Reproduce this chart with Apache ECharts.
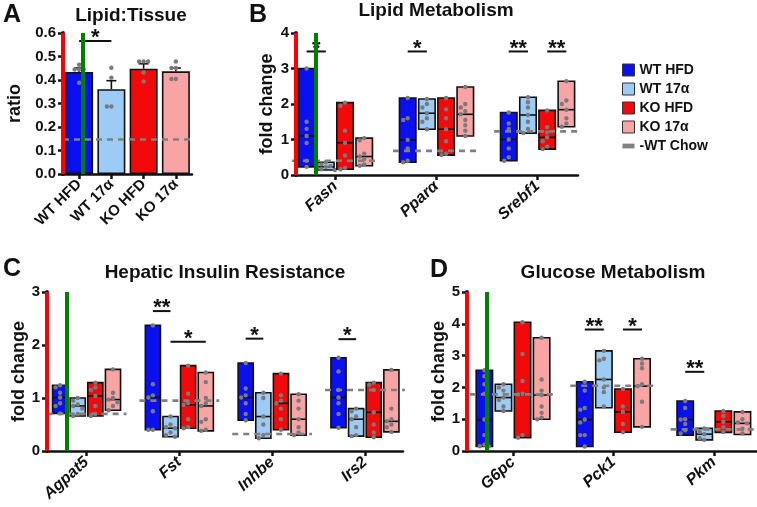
<!DOCTYPE html>
<html>
<head>
<meta charset="utf-8">
<script src="https://cdn.jsdelivr.net/npm/echarts@6/dist/echarts.min.js"></script>
<style>
  html, body { margin: 0; padding: 0; background: #fff; }
  #main { width: 757px; height: 507px; }
</style>
</head>
<body>
<div id="main"></div>
<script>
const GROUPS = ['WT HFD', 'WT 17α', 'KO HFD', 'KO 17α'];
const COLORS = ['#0a10ee', '#9ccbf6', '#f20a0a', '#f8a4a4'];

// A - Lipid:Tissue
const ratioMean = [0.434, 0.361, 0.448, 0.437];
const ratioSem = [0.017, 0.036, 0.021, 0.014];
const ratioDots = [
    [0.465, 0.445, 0.445, 0.445, 0.388],
    [0.452, 0.41, 0.287, 0.287],
    [0.479, 0.479, 0.479, 0.432, 0.394],
    [0.479, 0.451, 0.451, 0.404, 0.404]
];
const ratioChow = 0.15;
const ratioSig = [[0, 0, 1, 0.566, '*']];

// B - Lipid Metabolism  [gene][group]
const lipidGenes = ['Fasn', 'Pparα', 'Srebf1'];
const lipidMin = [[0.23, 0.14, 0.16, 0.26], [0.36, 1.29, 0.56, 1.1], [0.4, 1.18, 0.73, 1.36]];
const lipidMed = [[1.1, 0.23, 0.91, 0.52], [0.99, 1.74, 1.29, 1.71], [1.0, 1.69, 1.06, 1.84]];
const lipidMax = [[3.0, 0.36, 2.04, 1.04], [2.17, 2.14, 2.17, 2.48], [1.76, 2.19, 1.82, 2.64]];
const lipidChow = [0.4, 0.68, 1.23];
const lipidDots = [
    [[3.0, 1.5, 1.3, 1.1, 0.9, 0.4, 0.23], [0.36, 0.3, 0.25, 0.23, 0.2, 0.16, 0.14],
     [2.04, 1.95, 1.25, 0.91, 0.55, 0.2, 0.16], [1.04, 0.98, 0.6, 0.52, 0.45, 0.3, 0.26]],
    [[2.17, 1.6, 1.55, 0.99, 0.75, 0.4, 0.36], [2.14, 2.0, 1.9, 1.74, 1.6, 1.5, 1.29],
     [2.17, 1.85, 1.6, 1.29, 0.95, 0.6, 0.56], [2.48, 2.0, 1.9, 1.8, 1.71, 1.55, 1.4, 1.25, 1.1]],
    [[1.76, 1.45, 1.3, 1.0, 0.75, 0.5, 0.4], [2.19, 2.05, 1.9, 1.69, 1.5, 1.3, 1.18],
     [1.82, 1.35, 1.2, 1.06, 0.95, 0.8, 0.73], [2.64, 2.1, 2.0, 1.84, 1.6, 1.45, 1.36]]
];
const lipidSig = [[0, 0, 1, 3.48, '*'], [1, 0, 1, 3.48, '*'], [2, 0, 1, 3.48, '**'], [2, 2, 3, 3.48, '**']];

// C - Hepatic Insulin Resistance
const insulinGenes = ['Agpat5', 'Fst', 'Inhbe', 'Irs2'];
const insulinMin = [[0.71, 0.66, 0.66, 0.77], [0.4, 0.27, 0.43, 0.38], [0.58, 0.24, 0.4, 0.3], [0.44, 0.28, 0.26, 0.36]];
const insulinMed = [[1.01, 0.85, 1.04, 0.97], [1.01, 0.43, 0.87, 0.85], [1.01, 0.65, 0.9, 0.6], [1.01, 0.6, 0.73, 0.56]];
const insulinMax = [[1.24, 1.0, 1.29, 1.54], [2.37, 0.65, 1.61, 1.48], [1.66, 1.1, 1.46, 1.07], [1.76, 0.8, 1.29, 1.53]];
const insulinChow = [0.7, 0.95, 0.32, 1.15];
const insulinDots = [
    [[1.24, 1.2, 1.1, 1.01, 0.9, 0.85, 0.71], [1.0, 0.95, 0.88, 0.85, 0.8, 0.7, 0.66],
     [1.29, 1.2, 1.15, 1.04, 0.85, 0.7, 0.66], [1.54, 1.1, 1.0, 0.97, 0.92, 0.85, 0.77]],
    [[2.37, 1.26, 1.05, 1.01, 0.75, 0.4, 0.4], [0.65, 0.5, 0.45, 0.43, 0.35, 0.3, 0.27],
     [1.61, 1.08, 0.9, 0.87, 0.6, 0.45, 0.43], [1.48, 1.3, 1.0, 0.9, 0.85, 0.6, 0.55, 0.4, 0.38]],
    [[1.66, 1.18, 1.05, 1.01, 0.9, 0.7, 0.58], [1.1, 1.0, 0.65, 0.5, 0.3, 0.24],
     [1.46, 1.05, 0.95, 0.9, 0.8, 0.6, 0.4], [1.07, 0.95, 0.8, 0.6, 0.45, 0.35, 0.3]],
    [[1.76, 1.5, 1.15, 1.01, 0.9, 0.7, 0.44], [0.8, 0.75, 0.65, 0.6, 0.45, 0.3, 0.28],
     [1.29, 1.25, 1.15, 0.73, 0.5, 0.35, 0.26], [1.53, 0.8, 0.6, 0.56, 0.5, 0.45, 0.36]]
];
const insulinSig = [[1, 0, 1, 2.64, '**'], [1, 1, 3, 2.06, '*'], [2, 0, 1, 2.12, '*'], [3, 0, 1, 2.11, '*']];

// D - Glucose Metabolism
const glucoseGenes = ['G6pc', 'Pck1', 'Pkm'];
const glucoseMin = [[0.14, 1.26, 0.42, 1.0], [0.14, 1.36, 0.59, 0.76], [0.5, 0.35, 0.58, 0.52]];
const glucoseMed = [[0.99, 1.68, 1.78, 1.76], [0.99, 2.25, 1.23, 2.04], [0.99, 0.53, 0.92, 0.87]];
const glucoseMax = [[2.54, 2.1, 4.05, 3.56], [2.18, 3.15, 1.95, 2.9], [1.57, 0.71, 1.26, 1.23]];
const glucoseChow = [1.78, 2.05, 0.68];
const glucoseDots = [
    [[2.54, 2.35, 2.1, 1.8, 0.99, 0.5, 0.2, 0.15, 0.14], [2.1, 2.0, 1.9, 1.68, 1.6, 1.4, 1.26],
     [4.05, 3.05, 2.2, 1.8, 1.78, 0.5, 0.42], [3.56, 2.25, 1.9, 1.76, 1.4, 1.2, 1.05, 1.0]],
    [[2.18, 1.9, 1.35, 1.3, 0.99, 0.9, 0.5, 0.5, 0.14], [3.15, 2.9, 2.85, 2.25, 2.0, 1.85, 1.4],
     [1.95, 1.4, 1.23, 0.85, 0.59], [2.9, 2.75, 2.6, 2.1, 2.04, 1.55, 0.76]],
    [[1.57, 1.35, 1.0, 0.99, 0.85, 0.65, 0.55], [0.71, 0.6, 0.53, 0.4, 0.35],
     [1.26, 1.1, 0.92, 0.75, 0.6], [1.23, 1.0, 0.9, 0.87, 0.7, 0.55]]
];
const glucoseSig = [[1, 0, 1, 3.82, '**'], [1, 2, 3, 3.82, '*'], [2, 0, 1, 2.49, '**']];

const FONT = "'Liberation Sans', Arial, sans-serif";
const STEP = 0.19;
const BOXW = 0.163;
const INK = '#111';
const DOT = '#7a7a7a';

function offset(g) {
    return (g - 1.5) * STEP;
}

function dotShapes(api, cx, xData, vals) {
    const placed = [];
    const cands = [0, -4.5, 4.5, -9, 9];
    return vals.map(v => {
        const y = api.coord([xData, v])[1];
        let x = cx;
        for (const c of cands) {
            const ok = placed.every(p => Math.hypot(p[0] - (cx + c), p[1] - y) >= 4.3);
            if (ok) { x = cx + c; break; }
        }
        placed.push([x, y]);
        return { type: 'circle', shape: { cx: x, cy: y, r: 2.2 }, style: { fill: DOT } };
    });
}

const panels = [
    { genes: lipidGenes, min: lipidMin, med: lipidMed, max: lipidMax, chow: lipidChow, dots: lipidDots, sig: lipidSig, yMax: 4 },
    { genes: insulinGenes, min: insulinMin, med: insulinMed, max: insulinMax, chow: insulinChow, dots: insulinDots, sig: insulinSig, yMax: 3 },
    { genes: glucoseGenes, min: glucoseMin, med: glucoseMed, max: glucoseMax, chow: glucoseChow, dots: glucoseDots, sig: glucoseSig, yMax: 5 }
];

function boxSeries(panel, g, axisIdx) {
    return {
        type: 'custom',
        name: GROUPS[g],
        xAxisIndex: axisIdx,
        yAxisIndex: axisIdx,
        itemStyle: { color: COLORS[g], borderColor: '#333', borderWidth: 1 },
        data: panel.genes.map((_, gi) => [gi, panel.min[gi][g], panel.med[gi][g], panel.max[gi][g]]),
        renderItem: function (params, api) {
            const gi = api.value(0);
            const x = gi + offset(g);
            const lo = api.coord([x, api.value(1)]);
            const md = api.coord([x, api.value(2)]);
            const hi = api.coord([x, api.value(3)]);
            const w = api.size([BOXW, 0])[0];
            const children = [
                { type: 'rect', shape: { x: lo[0] - w / 2, y: hi[1], width: w, height: lo[1] - hi[1] },
                  style: { fill: COLORS[g], stroke: INK, lineWidth: 1.6 } },
                { type: 'line', shape: { x1: lo[0] - w / 2, y1: md[1], x2: lo[0] + w / 2, y2: md[1] },
                  style: { stroke: INK, lineWidth: 1.6 } }
            ];
            return { type: 'group', children: children.concat(dotShapes(api, lo[0], x, panel.dots[gi][g])) };
        }
    };
}

function chowSeries(panel, axisIdx) {
    return {
        type: 'custom',
        name: '-WT Chow',
        xAxisIndex: axisIdx,
        yAxisIndex: axisIdx,
        z: 5,
        itemStyle: { color: '#808080' },
        data: panel.chow.map((v, i) => [i, v]),
        renderItem: function (params, api) {
            const a = api.coord([api.value(0) - 0.43, api.value(1)]);
            const b = api.coord([api.value(0) + 0.43, api.value(1)]);
            return { type: 'line', shape: { x1: a[0], y1: a[1], x2: b[0], y2: b[1] },
                     style: { stroke: '#808080', lineWidth: 2.6, lineDash: [6, 5] } };
        }
    };
}

function sigSeries(sig, axisIdx, useOffset) {
    return {
        type: 'custom',
        xAxisIndex: axisIdx,
        yAxisIndex: axisIdx,
        z: 6,
        silent: true,
        data: sig.map(s => [s[0], s[3]]),
        renderItem: function (params, api) {
            const s = sig[params.dataIndex];
            const xa = s[0] + (useOffset ? offset(s[1]) : s[1] - s[0]);
            const xb = s[0] + (useOffset ? offset(s[2]) : s[2] - s[0]);
            const pa = api.coord([xa, s[3]]);
            const pb = api.coord([xb, s[3]]);
            return {
                type: 'group',
                children: [
                    { type: 'line', shape: { x1: pa[0], y1: pa[1], x2: pb[0], y2: pb[1] },
                      style: { stroke: INK, lineWidth: 2 } },
                    { type: 'text', x: (pa[0] + pb[0]) / 2, y: pa[1] - 3,
                      style: { text: s[4], fill: INK, font: 'bold 22px ' + FONT, align: 'center', verticalAlign: 'middle' } }
                ]
            };
        }
    };
}

// debug: coloured spines to locate the missing y axis line
function frameSeries(axisIdx, yMax, yStep, xTicks) {
    return {
        type: 'custom',
        xAxisIndex: axisIdx,
        yAxisIndex: axisIdx,
        z: 20,
        silent: true,
        data: [[xTicks[0], 0]],
        renderItem: function (params, api) {
            const cs = params.coordSys;
            const left = cs.x;
            const bottom = cs.y + cs.height;
            return { type: 'group', children: [
                { type: 'line', shape: { x1: left, y1: cs.y, x2: left, y2: bottom }, style: { stroke: 'red', lineWidth: 4 } },
                { type: 'line', shape: { x1: left + 20, y1: cs.y, x2: left + 20, y2: bottom }, style: { stroke: 'green', lineWidth: 4 } }
            ] };
        }
    };
}

const tickFont = { color: INK, fontFamily: FONT, fontWeight: 'bold', fontSize: 15 };
const nameFont = { color: INK, fontFamily: FONT, fontWeight: 'bold', fontSize: 18 };

function xLine() {
    return { show: true, onZero: false, lineStyle: { color: INK, width: 2.5 } };
}
function yLine() {
    return { show: true, onZero: false, lineStyle: { color: 'blue', width: 4 } };
}
function ticks(extra) {
    return Object.assign({ show: true, length: 5, lineStyle: { color: INK, width: 2.5 } }, extra || {});
}

function geneXAxis(idx, genes, min, max) {
    const pos = genes.map((_, i) => i);
    return {
        type: 'value', gridIndex: idx, min: min, max: max,
        splitLine: { show: false },
        axisLine: xLine(),
        axisTick: ticks({ customValues: pos }),
        axisLabel: {
            customValues: pos,
            formatter: v => genes[Math.round(v)] || '',
            rotate: 42, margin: 9,
            color: INK, fontFamily: FONT, fontWeight: 'bold', fontStyle: 'italic', fontSize: 16
        }
    };
}

function foldYAxis(idx, max, gap) {
    return {
        type: 'value', gridIndex: idx, min: 0, max: max, interval: 1,
        name: 'fold change', nameLocation: 'middle', nameGap: gap, nameRotate: 90,
        nameTextStyle: nameFont,
        splitLine: { show: false },
        axisLine: yLine(),
        axisTick: ticks(),
        axisLabel: Object.assign({ margin: 7 }, tickFont)
    };
}

const chart = echarts.init(document.getElementById('main'), null, { renderer: 'canvas' });

const option = {
    backgroundColor: '#ffffff',
    animation: false,
    title: [
        { text: 'A', left: 3, top: 3, padding: 0, textStyle: { fontSize: 25, fontWeight: 'bold', fontFamily: FONT, color: INK } },
        { text: 'B', left: 249, top: 3, padding: 0, textStyle: { fontSize: 25, fontWeight: 'bold', fontFamily: FONT, color: INK } },
        { text: 'C', left: 3, top: 257, padding: 0, textStyle: { fontSize: 25, fontWeight: 'bold', fontFamily: FONT, color: INK } },
        { text: 'D', left: 430, top: 258, padding: 0, textStyle: { fontSize: 25, fontWeight: 'bold', fontFamily: FONT, color: INK } },
        { text: 'Lipid:Tissue', left: 131, top: 6, padding: 0, textAlign: 'center', textStyle: { fontSize: 19, fontWeight: 'bold', fontFamily: FONT, color: INK } },
        { text: 'Lipid Metabolism', left: 436, top: 1, padding: 0, textAlign: 'center', textStyle: { fontSize: 19, fontWeight: 'bold', fontFamily: FONT, color: INK } },
        { text: 'Hepatic Insulin Resistance', left: 225, top: 263, padding: 0, textAlign: 'center', textStyle: { fontSize: 19, fontWeight: 'bold', fontFamily: FONT, color: INK } },
        { text: 'Glucose Metabolism', left: 613, top: 263, padding: 0, textAlign: 'center', textStyle: { fontSize: 19, fontWeight: 'bold', fontFamily: FONT, color: INK } }
    ],
    legend: {
        orient: 'vertical',
        left: 622, top: 63,
        itemWidth: 12, itemHeight: 12, itemGap: 5,
        padding: 0,
        selectedMode: false,
        textStyle: { color: INK, fontFamily: FONT, fontWeight: 'bold', fontSize: 14 },
        data: GROUPS.map(n => ({ name: n, icon: 'rect', itemStyle: { borderColor: '#333', borderWidth: 1 } })).concat([
            { name: '-WT Chow', icon: 'path://M0,0h10v4h-10z', itemStyle: { color: '#808080', borderWidth: 0 } }
        ])
    },
    grid: [
        { left: 63, top: 33, width: 129, height: 141 },
        { left: 296, top: 33, width: 282, height: 142 },
        { left: 47, top: 292, width: 356, height: 159 },
        { left: 467, top: 292, width: 290, height: 159 }
    ],
    xAxis: [
        {
            type: 'category', gridIndex: 0, data: GROUPS,
            axisLine: xLine(),
            axisTick: ticks({ alignWithLabel: true }),
            axisLabel: Object.assign({ rotate: 45, margin: 8, interval: 0 }, tickFont)
        },
        geneXAxis(1, lipidGenes, -0.39, 2.40),
        geneXAxis(2, insulinGenes, -0.426, 3.41),
        geneXAxis(3, glucoseGenes, -0.458, 2.43)
    ],
    yAxis: [
        {
            type: 'value', gridIndex: 0, min: 0, max: 0.6, interval: 0.1,
            name: 'ratio', nameLocation: 'middle', nameGap: 39, nameRotate: 90,
            nameTextStyle: nameFont,
            splitLine: { show: false },
            axisLine: yLine(),
            axisTick: ticks(),
            axisLabel: Object.assign({ margin: 7, formatter: v => v.toFixed(1) }, tickFont)
        },
        foldYAxis(1, 4, 20),
        foldYAxis(2, 3, 19),
        foldYAxis(3, 5, 14)
    ],
    series: [
        {
            type: 'bar', xAxisIndex: 0, yAxisIndex: 0, barWidth: 28,
            data: ratioMean.map((v, i) => ({ value: v, itemStyle: { color: COLORS[i] } })),
            itemStyle: { borderColor: INK, borderWidth: 1.6 },
            markLine: {
                silent: true, symbol: 'none', label: { show: false },
                lineStyle: { color: '#808080', width: 2.6, type: [6, 5] },
                data: [{ yAxis: ratioChow }]
            }
        },
        {
            type: 'custom', xAxisIndex: 0, yAxisIndex: 0, z: 4,
            data: ratioMean.map((m, i) => [i, m, ratioSem[i]]),
            renderItem: function (params, api) {
                const i = api.value(0);
                const p0 = api.coord([i, api.value(1)]);
                const p1 = api.coord([i, api.value(1) + api.value(2)]);
                const dots = dotShapes(api, p0[0], i, ratioDots[i]);
                return {
                    type: 'group',
                    children: [
                        { type: 'line', shape: { x1: p0[0], y1: p0[1], x2: p1[0], y2: p1[1] }, style: { stroke: INK, lineWidth: 1.6 } },
                        { type: 'line', shape: { x1: p1[0] - 5, y1: p1[1], x2: p1[0] + 5, y2: p1[1] }, style: { stroke: INK, lineWidth: 1.6 } }
                    ].concat(dots)
                };
            }
        },
        sigSeries(ratioSig, 0, false),
        frameSeries(0, 0.6, 0.1, GROUPS.map((_, i) => i))
    ]
};

panels.forEach((panel, k) => {
    const axisIdx = k + 1;
    GROUPS.forEach((_, g) => option.series.push(boxSeries(panel, g, axisIdx)));
    option.series.push(chowSeries(panel, axisIdx));
    option.series.push(sigSeries(panel.sig, axisIdx, true));
    option.series.push(frameSeries(axisIdx, panel.yMax, 1, panel.genes.map((_, i) => i)));
});

chart.setOption(option);
</script>
</body>
</html>
